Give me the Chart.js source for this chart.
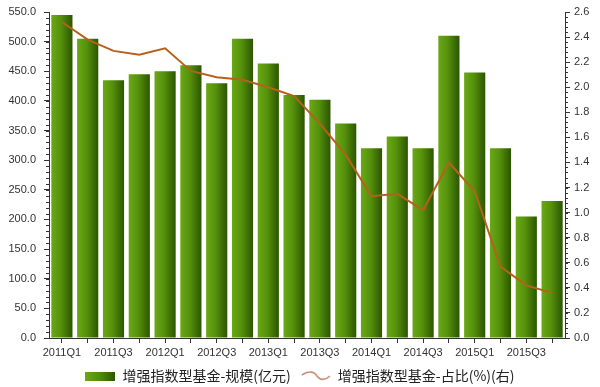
<!DOCTYPE html>
<html>
<head>
<meta charset="utf-8">
<script src="https://cdn.jsdelivr.net/npm/chart.js@4/dist/chart.umd.min.js"></script>
<style>
html,body{margin:0;padding:0;background:#fff;}
#wrap{width:600px;height:387px;position:relative;}
</style>
</head>
<body>
<div id="wrap"><canvas id="c" width="600" height="387"></canvas></div>
<script>
const categories = ['2011Q1','2011Q2','2011Q3','2011Q4','2012Q1','2012Q2','2012Q3','2012Q4','2013Q1','2013Q2','2013Q3','2013Q4','2014Q1','2014Q2','2014Q3','2014Q4','2015Q1','2015Q2','2015Q3','2015Q4'];
const scaleValues = [545, 505, 435, 445, 450, 460, 430, 505, 463, 410, 402, 362, 320, 340, 320, 510, 448, 320, 205, 231];
const shareValues = [2.52, 2.38, 2.29, 2.26, 2.31, 2.13, 2.08, 2.06, 2.00, 1.93, 1.71, 1.46, 1.13, 1.15, 1.02, 1.40, 1.17, 0.57, 0.42, 0.36];
const leftTicks = {min: 0, max: 550, step: 50, minor: 10};
const rightTicks = {min: 0, max: 2.6, step: 0.2, minor: 0.04};
const seriesNames = ['增强指数型基金-规模(亿元)', '增强指数型基金-占比(%)(右)'];

const BAR_PCT = 0.82;

function barIcon(){
  const c = document.createElement('canvas'); c.width = 30; c.height = 9;
  const x = c.getContext('2d');
  const g = x.createLinearGradient(0,0,30,0);
  g.addColorStop(0,'#6aa816'); g.addColorStop(0.5,'#4f8b0a'); g.addColorStop(1,'#2c5500');
  x.fillStyle = g; x.fillRect(0,0,30,9);
  return c;
}
function lineIcon(){
  const c = document.createElement('canvas'); c.width = 30; c.height = 12;
  const x = c.getContext('2d');
  x.strokeStyle = '#c98f78'; x.lineWidth = 1.6;
  x.beginPath(); x.moveTo(1,5);
  x.bezierCurveTo(8,0,14,2,16,6);
  x.bezierCurveTo(19,10,24,11,29,6);
  x.stroke();
  return c;
}
const icons = [barIcon(), lineIcon()];

const minorTicks = {
  id: 'minorTicks',
  afterDraw(chart){
    const ctx = chart.ctx;
    ctx.save();
    ctx.strokeStyle = '#333'; ctx.lineWidth = 1;
    const ys = chart.scales.y, yr = chart.scales.y1;
    ctx.beginPath();
    for (let v = leftTicks.min; v <= leftTicks.max + 1e-6; v += leftTicks.minor){
      const p = Math.round(ys.getPixelForValue(v)) + 0.5;
      ctx.moveTo(ys.right - 3, p); ctx.lineTo(ys.right, p);
    }
    for (let i = 0; i <= Math.round((rightTicks.max - rightTicks.min)/rightTicks.minor); i++){
      const v = rightTicks.min + i*rightTicks.minor;
      const p = Math.round(yr.getPixelForValue(v)) + 0.5;
      ctx.moveTo(yr.left, p); ctx.lineTo(yr.left + 3, p);
    }
    ctx.stroke();
    ctx.restore();
  }
};

function barGradient(context){
  const chart = context.chart;
  const area = chart.chartArea;
  if (!area) return '#4f8b0a';
  const xs = chart.scales.x;
  const cx = xs.getPixelForValue(context.dataIndex);
  const w = area.width / categories.length * BAR_PCT;
  const g = chart.ctx.createLinearGradient(cx - w/2, 0, cx + w/2, 0);
  g.addColorStop(0, '#6aa816');
  g.addColorStop(0.45, '#55910c');
  g.addColorStop(1, '#2c5500');
  return g;
}

const tickFont = {family: '"Liberation Sans", Arial, sans-serif', size: 11};

new Chart(document.getElementById('c'), {
  data: {
    labels: categories,
    datasets: [
      {type: 'bar', label: seriesNames[0], data: scaleValues, yAxisID: 'y', order: 2,
       backgroundColor: barGradient, borderWidth: 0, barPercentage: BAR_PCT, categoryPercentage: 1.0},
      {type: 'line', label: seriesNames[1], data: shareValues, yAxisID: 'y1', order: 1,
       borderColor: '#b5611c', borderWidth: 2, pointRadius: 0, tension: 0, fill: false}
    ]
  },
  options: {
    responsive: false,
    animation: false,
    layout: {padding: {top: 12, left: 0, right: 0, bottom: -6}},
    plugins: {
      tooltip: {enabled: false},
      legend: {
        position: 'bottom',
        labels: {
          usePointStyle: true, pointStyleWidth: 30, boxHeight: 14, padding: 10,
          color: '#222',
          font: {family: '"Noto Sans CJK SC", sans-serif', size: 14},
          generateLabels: (chart) => chart.data.datasets.map((ds, i) => ({
            text: ds.label, pointStyle: icons[i], fillStyle: 'rgba(0,0,0,0)',
            strokeStyle: 'rgba(0,0,0,0)', lineWidth: 0, hidden: false, datasetIndex: i, fontColor: '#222'
          }))
        }
      }
    },
    scales: {
      x: {
        offset: true,
        grid: {display: true, drawOnChartArea: false, offset: false, tickLength: 5, color: '#333'},
        border: {display: true, color: '#333'},
        ticks: {autoSkip: false, maxRotation: 0, minRotation: 0, padding: 3, color: '#333', font: tickFont,
          callback: function(v, i){ return i % 2 === 0 ? categories[i] : ''; }},
        afterFit(s){ s.height = 21; s.paddingLeft = 0; s.paddingRight = 0; }
      },
      y: {
        position: 'left', min: leftTicks.min, max: leftTicks.max,
        grid: {display: true, drawOnChartArea: false, tickLength: 5, color: '#333'},
        border: {display: true, color: '#333'},
        ticks: {stepSize: leftTicks.step, padding: 8, color: '#333', font: tickFont,
          callback: v => Number(v).toFixed(1)},
        afterFit(s){ s.width = 49; s.paddingTop = 0; s.paddingBottom = 0; }
      },
      y1: {
        position: 'right', min: rightTicks.min, max: rightTicks.max,
        grid: {display: true, drawOnChartArea: false, tickLength: 5, color: '#333'},
        border: {display: true, color: '#333'},
        ticks: {stepSize: rightTicks.step, padding: 4, color: '#333', font: tickFont,
          callback: v => Number(v).toFixed(1)},
        afterFit(s){ s.width = 35; s.paddingTop = 0; s.paddingBottom = 0; }
      }
    }
  },
  plugins: [minorTicks]
});
</script>
</body>
</html>
